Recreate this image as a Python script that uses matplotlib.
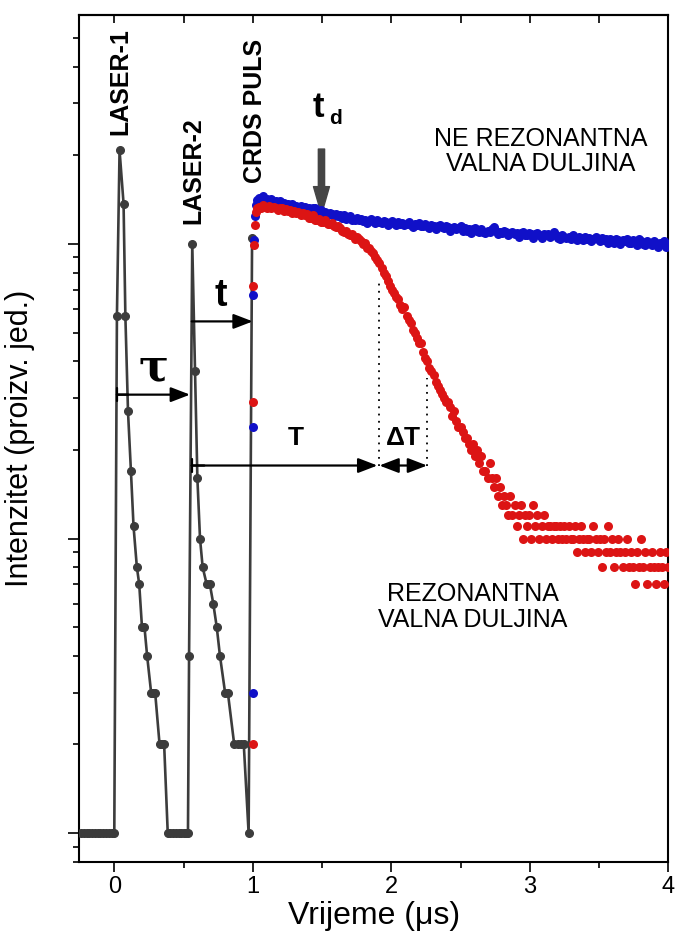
import numpy as np
import matplotlib
matplotlib.use("Agg")
import matplotlib.pyplot as plt
from matplotlib.ticker import LogLocator, NullFormatter, MultipleLocator

plt.rcParams['font.family'] = ['Liberation Sans', 'DejaVu Sans']

# gray trace: LASER-1, LASER-2 and start of the CRDS pulse
laser_t = [-0.24, -0.22, -0.20, -0.18, -0.16, -0.14, -0.12, -0.10, -0.08, -0.06, -0.04, -0.02, 0.00,
           0.019, 0.038, 0.067, 0.080, 0.099, 0.120, 0.139, 0.163, 0.180, 0.200, 0.218, 0.237,
           0.266, 0.281, 0.295, 0.327, 0.343, 0.360,
           0.386, 0.405, 0.425, 0.445, 0.465, 0.485, 0.500, 0.516, 0.532,
           0.540, 0.563, 0.583, 0.600, 0.619, 0.638, 0.667, 0.690, 0.715, 0.740, 0.763, 0.800, 0.820,
           0.866, 0.890, 0.912, 0.935, 0.970, 0.995]
laser_v = [1, 1, 1, 1, 1, 1, 1, 1, 1, 1, 1, 1, 1,
           57, 208, 137, 57, 27, 17, 11, 8, 7, 5, 5, 4,
           3, 3, 3, 2, 2, 2,
           1, 1, 1, 1, 1, 1, 1, 1, 1,
           4, 100, 37, 16, 10, 8, 7, 7, 6, 5, 4, 3, 3,
           2, 2, 2, 2, 1, 105]

# CRDS rise, common to both wavelengths
rise_t = [0.998, 1.000, 1.003, 1.010, 1.016, 1.023]
blue_rise = [3, 24, 67, 103, 124, 136]
red_rise = [2, 29, 72, 99, 116, 128]

# non resonant wavelength (blue), 1.03 .. 4.0 us
blue_v = [141, 143, 142, 145, 141, 142, 140, 142, 139, 140,
          138, 140, 137, 138, 135, 137, 135, 137, 134, 135,
          133, 135, 132, 134, 130, 132, 130, 132, 132, 129,
          128, 130, 127, 128, 125, 127, 126, 124, 126, 124,
          125, 123, 125, 122, 123, 124, 121, 121, 123, 121,
          122, 120, 121, 118, 120, 122, 120, 118, 121, 119,
          118, 120, 119, 116, 118, 120, 118, 116, 119, 117,
          118, 116, 117, 119, 116, 114, 117, 116, 118, 115,
          115, 117, 115, 113, 116, 115, 112, 115, 116, 114,
          113, 115, 114, 111, 113, 114, 112, 113, 115, 111,
          113, 111, 112, 109, 112, 113, 111, 110, 112, 110,
          109, 111, 110, 112, 114, 111, 108, 110, 109, 111,
          110, 107, 109, 110, 108, 109, 106, 109, 110, 107,
          107, 109, 108, 105, 108, 109, 107, 105, 108, 107,
          108, 106, 107, 110, 107, 105, 104, 107, 106, 105,
          106, 104, 107, 105, 103, 106, 105, 103, 106, 104,
          105, 102, 104, 106, 104, 102, 105, 103, 104, 101,
          104, 103, 101, 104, 103, 100, 103, 102, 104, 101,
          101, 103, 102, 99, 104, 102, 100, 99, 102, 101,
          99, 102, 101, 98, 101, 100, 102, 98, 100]

# resonant wavelength (red), 1.03 .. 4.0 us
red_v = [132, 134, 133, 136, 134, 132, 135, 132, 134, 133,
         130, 133, 132, 129, 131, 129, 130, 127, 129, 127,
         128, 125, 127, 125, 126, 123, 123, 125, 121, 121,
         122, 119, 119, 121, 117, 117, 118, 115, 114, 115,
         113, 111, 110, 111, 108, 107, 108, 104, 106, 104,
         102, 100, 101, 97, 97, 95, 93, 90, 88, 86,
         83, 80, 78, 75, 72, 70, 68, 66, 65, 62,
         60, 61, 57, 55, 54, 51, 50, 48, 46, 46,
         43, 41, 40, 38, 37, 36, 34, 33, 32, 31,
         30, 29, 29, 28, 26, 27, 25, 24, 24, 23,
         22, 22, 21, 20, 21, 19, 20, 18, 19, 17,
         17, 16, 18, 16, 15, 16, 14, 15, 13, 14,
         13, 12, 14, 12, 13, 11, 12, 13, 10, 12,
         11, 12, 10, 13, 11, 12, 10, 11, 12, 10,
         11, 11, 10, 11, 11, 10, 11, 10, 11, 10,
         11, 10, 10, 11, 9, 10, 11, 10, 9, 10,
         10, 9, 11, 10, 9, 10, 8, 10, 9, 11,
         9, 10, 8, 9, 10, 9, 8, 9, 10, 8,
         9, 8, 7, 9, 8, 10, 8, 9, 7, 8,
         9, 8, 7, 8, 9, 8, 7, 9, 8]

blue_t = np.concatenate([rise_t, np.linspace(1.03, 4.0, len(blue_v))])
red_t = np.concatenate([rise_t, np.linspace(1.03, 4.0, len(red_v))])
blue_all = blue_rise + blue_v
red_all = red_rise + red_v

fig = plt.figure(figsize=(6.75, 9.49), dpi=100)
ax = fig.add_axes([0.117, 0.092, 0.873, 0.892])

ax.plot(laser_t, laser_v, '-o', color='#3c3c3c', lw=1.9, ms=5.5, zorder=3)
ax.plot(blue_t, blue_all, 'o', color='#1010c8', ms=6.5, mec='none', zorder=4)
ax.plot(red_t, red_all, 'o', color='#dc1414', ms=6.5, mec='none', zorder=5)

ax.set_yscale('log')
ax.set_xlim(-0.255, 4.0)
ax.set_ylim(0.80, 598)

ax.xaxis.set_major_locator(MultipleLocator(1))
ax.xaxis.set_minor_locator(MultipleLocator(0.5))
ax.yaxis.set_major_locator(LogLocator(base=10))
ax.yaxis.set_minor_locator(LogLocator(base=10, subs=np.arange(2, 10)))
ax.yaxis.set_major_formatter(NullFormatter())
ax.yaxis.set_minor_formatter(NullFormatter())

for s in ax.spines.values():
    s.set_linewidth(1.5)
ax.tick_params(axis='x', which='major', direction='out', length=7.5, width=1.2,
               labelsize=17, pad=3, top=False)
ax.tick_params(axis='x', which='minor', direction='out', length=4, width=1.2, top=False)
ax.tick_params(axis='y', which='major', direction='out', length=8, width=1.2, right=False)
ax.tick_params(axis='y', which='minor', direction='out', length=4, width=1.2, right=False)

top = ax.secondary_xaxis('top')
top.xaxis.set_major_locator(MultipleLocator(0.5))
top.tick_params(direction='in', length=6, width=1.2, labeltop=False)
top.spines['top'].set_linewidth(1.5)

ax.set_xlabel('Vrijeme (\u03bcs)', fontsize=23, labelpad=2)
ax.set_ylabel('Intenzitet (proizv. jed.)', fontsize=22, labelpad=20)

# pulse labels
ax.text(0.043, 235, 'LASER-1', rotation=90, ha='center', va='bottom', fontsize=18, fontweight='bold')
ax.text(0.568, 117, 'LASER-2', rotation=90, ha='center', va='bottom', fontsize=18, fontweight='bold')
ax.text(1.014, 161, 'CRDS PULS', rotation=90, ha='center', va='bottom', fontsize=18, fontweight='bold')

# t_d with arrow
ax.text(1.475, 290, 't', ha='center', va='center', fontsize=25, fontweight='bold')
ax.text(1.600, 266, 'd', ha='center', va='center', fontsize=15, fontweight='bold')
ax.annotate('', xy=(1.496, 126), xytext=(1.496, 210),
            arrowprops=dict(width=4.5, headwidth=11.5, headlength=20, color='#454545', shrink=0))

ax.text(3.08, 206, 'NE REZONANTNA\nVALNA DULJINA', ha='center', va='center', fontsize=18,
        multialignment='center', linespacing=1.1)
ax.text(2.59, 5.84, 'REZONANTNA\nVALNA DULJINA', ha='center', va='center', fontsize=18,
        multialignment='center', linespacing=1.1)

arrow_kw = dict(arrowstyle='-|>,head_length=0.65,head_width=0.25', color='black', lw=1.6,
                mutation_scale=18, shrinkA=0, shrinkB=0)
bar_kw = dict(arrowstyle='|-|,widthA=0.25,widthB=0.0', color='black', lw=1.6,
              mutation_scale=18, shrinkA=0, shrinkB=0)

# tau
ax.annotate('', xy=(0.547, 30.8), xytext=(0.019, 30.8), arrowprops=arrow_kw)
ax.annotate('', xy=(0.10, 30.8), xytext=(0.019, 30.8), arrowprops=bar_kw)
ax.text(0.28, 38, '\u03c4', ha='center', va='center', fontsize=32, fontweight='bold',
        family=['DejaVu Serif'])

# t
ax.annotate('', xy=(1.0, 54.6), xytext=(0.559, 54.6), arrowprops=arrow_kw)
ax.text(0.77, 66.5, 't', ha='center', va='center', fontsize=27, fontweight='bold')

# T and delta T
ax.annotate('', xy=(1.90, 17.7), xytext=(0.559, 17.7), arrowprops=arrow_kw)
ax.annotate('', xy=(0.65, 17.7), xytext=(0.559, 17.7), arrowprops=bar_kw)
ax.annotate('', xy=(2.259, 17.7), xytext=(1.914, 17.7),
            arrowprops=dict(arrowstyle='<|-|>,head_length=0.65,head_width=0.25', color='black',
                            lw=1.6, mutation_scale=18, shrinkA=0, shrinkB=0))
ax.text(1.31, 22, 'T', ha='center', va='center', fontsize=19, fontweight='bold')
ax.text(2.086, 22, '\u0394T', ha='center', va='center', fontsize=19, fontweight='bold')
ax.vlines([1.914], 17.7, 76, colors='black', linestyles=(0, (1, 3)), lw=1.3)
ax.vlines([2.259], 17.7, 35, colors='black', linestyles=(0, (1, 3)), lw=1.3)

fig.savefig('out.png', dpi=100)
